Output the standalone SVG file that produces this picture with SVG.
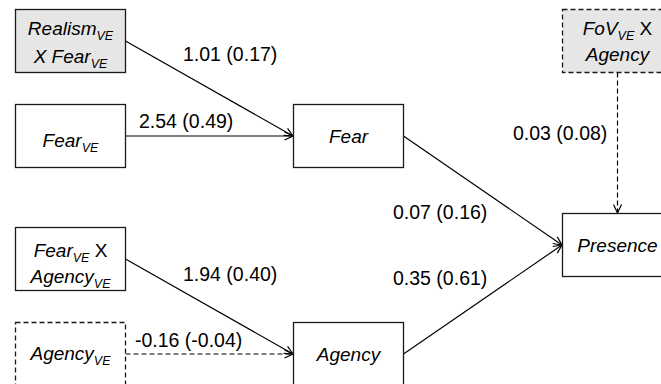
<svg xmlns="http://www.w3.org/2000/svg" width="661" height="384" viewBox="0 0 661 384">
<style>
.box{fill:#ffffff;stroke:#1a1a1a;stroke-width:1.3}
.shade{fill:#e6e6e6}
.dash{stroke-dasharray:5 3}
.nt{font-family:"Liberation Sans",Arial,sans-serif;font-style:italic;font-size:19px;fill:#000;text-anchor:middle}
.nt .up{font-style:normal}
.sub{font-size:12.5px}
.lbl{font-family:"Liberation Sans",Arial,sans-serif;font-size:19.5px;fill:#000}
.edge{fill:none;stroke:#000;stroke-width:1.2}
</style>
<defs>
<marker id="arr" viewBox="0 0 10 10" refX="9.5" refY="5" markerWidth="10" markerHeight="10" markerUnits="userSpaceOnUse" orient="auto">
<path d="M1,1 L9.5,5 L1,9" fill="none" stroke="#000" stroke-width="1.2"/>
</marker>
</defs>
<g id="connectors">
<path class="edge" d="M125.5,41 L293,136" marker-end="url(#arr)"/>
<path class="edge" d="M125.5,136 L293,136" marker-end="url(#arr)"/>
<path class="edge" d="M125.5,259 L293,354" marker-end="url(#arr)"/>
<path class="edge dash" d="M125.5,354 L293,354" marker-end="url(#arr)"/>
<path class="edge" d="M403.5,136 L562,245" marker-end="url(#arr)"/>
<path class="edge" d="M403.5,354 L562,245" marker-end="url(#arr)"/>
<path class="edge dash" d="M617.5,72.5 L617.5,213" marker-end="url(#arr)"/>
<text class="lbl" x="183" y="61">1.01 (0.17)</text>
<text class="lbl" x="139" y="128">2.54 (0.49)</text>
<text class="lbl" x="513" y="140">0.03 (0.08)</text>
<text class="lbl" x="393" y="219">0.07 (0.16)</text>
<text class="lbl" x="393" y="285">0.35 (0.61)</text>
<text class="lbl" x="183" y="281">1.94 (0.40)</text>
<text class="lbl" x="135" y="347">-0.16 (-0.04)</text>
</g>
<g id="n_realism_x_fear">
<rect class="box shade" x="15.5" y="9.5" width="110" height="63"/>
<text class="nt" x="70.5" y="35">Realism<tspan class="sub" dy="5">VE</tspan></text>
<text class="nt" x="70.5" y="63">X Fear<tspan class="sub" dy="5">VE</tspan></text>
</g>
<g id="n_fear_ve">
<rect class="box" x="15.5" y="104.5" width="110" height="63"/>
<text class="nt" x="70.5" y="147">Fear<tspan class="sub" dy="5">VE</tspan></text>
</g>
<g id="n_fear">
<rect class="box" x="293.5" y="104.5" width="110" height="63"/>
<text class="nt" x="348.5" y="143">Fear</text>
</g>
<g id="n_fov_x_agency">
<rect class="box shade dash" x="562.5" y="9.5" width="110" height="63"/>
<text class="nt" x="617.5" y="35">FoV<tspan class="sub" dy="5">VE</tspan><tspan class="up" dy="-5"> X</tspan></text>
<text class="nt" x="617.5" y="61">Agency</text>
</g>
<g id="n_presence">
<rect class="box" x="562.5" y="213.5" width="110" height="63"/>
<text class="nt" x="617.5" y="252">Presence</text>
</g>
<g id="n_fear_x_agency">
<rect class="box" x="15.5" y="227.5" width="110" height="63"/>
<text class="nt" x="70.5" y="257">Fear<tspan class="sub" dy="5">VE</tspan><tspan class="up" dy="-5"> X</tspan></text>
<text class="nt" x="70.5" y="283">Agency<tspan class="sub" dy="5">VE</tspan></text>
</g>
<g id="n_agency_ve">
<rect class="box dash" x="15.5" y="322.5" width="110" height="63"/>
<text class="nt" x="70.5" y="360">Agency<tspan class="sub" dy="5">VE</tspan></text>
</g>
<g id="n_agency">
<rect class="box" x="293.5" y="322.5" width="110" height="63"/>
<text class="nt" x="348.5" y="361">Agency</text>
</g>
</svg>
